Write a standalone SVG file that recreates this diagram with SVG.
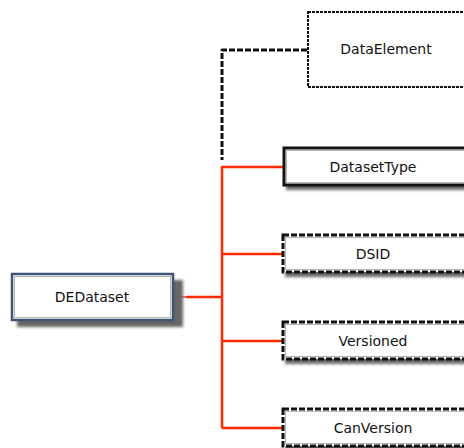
<svg xmlns="http://www.w3.org/2000/svg" width="464" height="448" viewBox="0 0 464 448">
  <style>
    .lbl { font-family: "DejaVu Sans", Verdana, sans-serif; font-size: 14px; fill: #111; text-anchor: middle; }
    .fill { fill: #fff; }
    .inner { fill: none; stroke: #b8b4ae; stroke-width: 1; }
    .solid { fill: none; stroke: #111; stroke-width: 3; }
    .dash { fill: none; stroke: #111; stroke-width: 3; stroke-dasharray: 6 2; }
    .dotted { fill: none; stroke: #111; stroke-width: 2; stroke-dasharray: 3 1; }
    .shadow { fill: #666; filter: url(#soft); }
    .rel { fill: none; stroke: #ff2a00; stroke-width: 2.5; }
    .opt { fill: none; stroke: #111; stroke-width: 3; stroke-dasharray: 6 2; stroke-linejoin: round; }
  </style>
  <defs>
    <filter id="soft" x="-10%" y="-30%" width="120%" height="160%">
      <feGaussianBlur stdDeviation="1.8"/>
    </filter>
  </defs>

  <rect width="464" height="448" fill="#fff"/>

  <!-- connectors -->
  <g id="connectors">
    <path class="opt" d="M307 50 H222 V160"/>
    <path class="rel" d="M222 166 V428"/>
    <path class="rel" d="M222 167 H283"/>
    <path class="rel" d="M222 254 H283"/>
    <path class="rel" d="M222 341 H283"/>
    <path class="rel" d="M222 428 H283"/>
    <path class="rel" d="M186 297 H222"/>
    <path d="M174 297 H186" stroke="#b03030" stroke-width="1.2" fill="none"/>
  </g>

  <!-- source entity -->
  <g id="DEDataset">
    <rect class="shadow" x="17" y="280" width="166" height="47"/>
    <rect class="fill" x="12" y="274" width="161" height="46"/>
    <rect class="inner" x="14.5" y="276.5" width="156" height="41"/>
    <rect x="12" y="274" width="161" height="46" fill="none" stroke="#3b5676" stroke-width="2.5"/>
    <text class="lbl" x="92" y="302">DEDataset</text>
  </g>

  <g id="DataElement">
    <rect class="fill" x="308" y="12" width="170" height="75"/>
    <rect class="dotted" x="308" y="12" width="170" height="75"/>
    <text class="lbl" x="386" y="54">DataElement</text>
  </g>

  <g id="DatasetType">
    <rect class="shadow" x="286" y="154" width="190" height="36"/>
    <rect class="fill" x="284" y="148" width="190" height="37"/>
    <rect class="inner" x="286.5" y="150.5" width="190" height="32"/>
    <rect class="solid" x="284" y="148" width="190" height="37"/>
    <text class="lbl" x="373" y="172">DatasetType</text>
  </g>

  <g id="DSID">
    <rect class="shadow" x="285" y="241" width="190" height="36"/>
    <rect class="fill" x="283" y="235" width="190" height="37"/>
    <rect class="inner" x="285.5" y="237.5" width="190" height="32"/>
    <rect class="dash" x="283" y="235" width="190" height="37"/>
    <text class="lbl" x="373" y="259">DSID</text>
  </g>

  <g id="Versioned">
    <rect class="shadow" x="285" y="328" width="190" height="36"/>
    <rect class="fill" x="283" y="322" width="190" height="37"/>
    <rect class="inner" x="285.5" y="324.5" width="190" height="32"/>
    <rect class="dash" x="283" y="322" width="190" height="37"/>
    <text class="lbl" x="373" y="346">Versioned</text>
  </g>

  <g id="CanVersion">
    <rect class="shadow" x="285" y="415" width="190" height="36"/>
    <rect class="fill" x="283" y="409" width="190" height="37"/>
    <rect class="inner" x="285.5" y="411.5" width="190" height="32"/>
    <rect class="dash" x="283" y="409" width="190" height="37"/>
    <text class="lbl" x="373" y="433">CanVersion</text>
  </g>
</svg>
